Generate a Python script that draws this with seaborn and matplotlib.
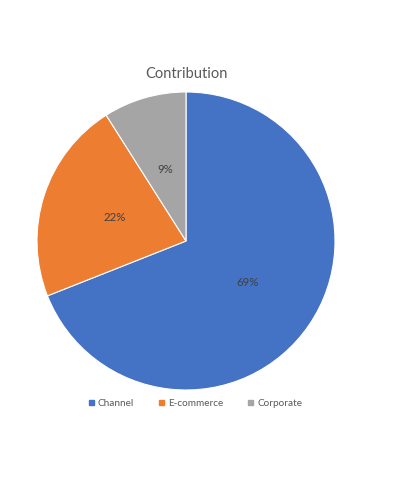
import matplotlib

matplotlib.use("Agg")
import matplotlib.pyplot as plt
from matplotlib.lines import Line2D
import seaborn as sns

sns.set_theme(style="white")
plt.rcParams["font.family"] = ["Lato", "DejaVu Sans"]

categories = ["Channel", "E-commerce", "Corporate"]
shares = [69, 22, 9]
colors = ["#4472C4", "#ED7D31", "#A5A5A5"]

fig = plt.figure(figsize=(3.93, 4.79), dpi=100)
ax = fig.add_axes([37 / 393, 89 / 479, 298 / 393, 298 / 479])

ax.pie(
    shares,
    colors=colors,
    startangle=90,
    counterclock=False,
    autopct="%1.0f%%",
    pctdistance=0.5,
    radius=1,
    wedgeprops=dict(edgecolor="white", linewidth=0.8),
    textprops=dict(color="#404040", fontsize=8.2),
)
ax.set_xlim(-1, 1)
ax.set_ylim(-1, 1)
ax.set_aspect("equal")
ax.axis("off")

fig.text(186 / 393, 1 - 74 / 479, "Contribution", ha="center", va="center",
         fontsize=10.5, color="#595959")

handles = [Line2D([], [], marker="s", linestyle="none", markersize=3.6,
                  markerfacecolor=c, markeredgecolor=c) for c in colors]
fig.legend(handles, categories, loc="center", bbox_to_anchor=(195 / 393, 1 - 403 / 479),
           ncol=3, frameon=False, fontsize=7.2, labelcolor="#595959",
           handlelength=0.6, handletextpad=0.4, columnspacing=2.4)

fig.savefig("out.png", dpi=100)
